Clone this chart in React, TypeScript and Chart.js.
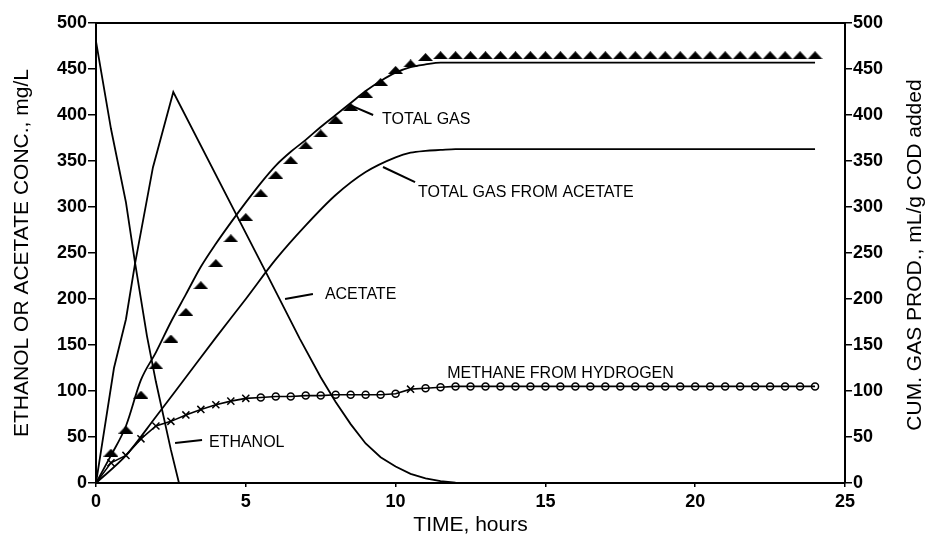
import React, { useEffect, useRef } from 'react';
import { Chart, registerables } from 'chart.js';

Chart.register(...registerables);

// ---- Data (hours, mg/L or mL/g COD) ----
const ethanolTime = [0, 0.5, 1, 1.3, 1.7, 2, 2.5, 2.77];
const ethanolConc = [480, 385, 305, 240, 160, 110, 36, 0];

const acetateTime = [0, 0.6, 1.0, 1.3, 1.9, 2.58, 5.58, 6.8, 7.5, 8, 8.5, 9, 9.5, 10, 10.5, 11, 11.5, 12, 12.5];
const acetateConc = [0, 125, 178, 238, 343, 425, 235, 157, 115, 88, 64, 43, 28, 18, 10, 5, 2, 0.5, 0];

const totalGasTime = [0, 0.5, 1, 1.5, 2, 2.5, 3, 3.5, 4, 4.5, 5, 5.5, 6, 6.5, 7, 7.5, 8, 8.5, 9, 9.5, 10, 10.5, 11, 11.5, 12, 24];
const totalGasModel = [0, 30, 62, 112, 142, 175, 205, 235, 260, 283, 305, 326, 345, 360, 373, 387, 400, 413, 426, 437, 446, 452, 455, 457, 457, 457];

const acetateGasTime = [0, 1, 2, 3, 4, 5, 6, 7, 8, 9, 10, 10.5, 11, 11.5, 12, 24];
const acetateGasModel = [0, 30, 72, 115, 158, 200, 243, 280, 313, 338, 354, 359, 361, 362, 363, 363];

const sampleTime = [
  0, 0.5, 1, 1.5, 2, 2.5, 3, 3.5, 4, 4.5, 5, 5.5, 6, 6.5, 7, 7.5, 8, 8.5, 9, 9.5,
  10, 10.5, 11, 11.5, 12, 12.5, 13, 13.5, 14, 14.5, 15, 15.5, 16, 16.5, 17, 17.5,
  18, 18.5, 19, 19.5, 20, 20.5, 21, 21.5, 22, 22.5, 23, 23.5, 24,
];
const totalGasMeasured = [
  0, 33, 58, 96, 128, 157, 186, 215, 239, 266, 289, 315, 335, 351, 367, 380, 395, 409, 423, 436,
  449, 456, 463, 465, 465, 465, 465, 465, 465, 465, 465, 465, 465, 465, 465, 465,
  465, 465, 465, 465, 465, 465, 465, 465, 465, 465, 465, 465, 465,
];
const methaneFromH2 = [
  0, 22, 30, 48, 62, 67, 74, 80, 85, 89, 92, 93, 94, 94, 95, 95, 96, 96, 96, 96,
  97, 102, 103, 104, 105, 105, 105, 105, 105, 105, 105, 105, 105, 105, 105, 105,
  105, 105, 105, 105, 105, 105, 105, 105, 105, 105, 105, 105, 105,
];

const yTicks = [0, 50, 100, 150, 200, 250, 300, 350, 400, 450, 500];
const xTicks = [0, 5, 10, 15, 20, 25];

const rightTitle = 'CUM. GAS PROD., mL/g COD added';

// annotation labels, anchored in data units (hours, value)
const labelTexts = ['TOTAL GAS', 'TOTAL GAS FROM ACETATE', 'ACETATE', 'METHANE FROM HYDROGEN', 'ETHANOL'];
const labelAnchors = [[9.55, 390], [10.75, 311], [7.64, 200], [11.72, 114], [3.77, 39]];
const leaderLines = [
  [[8.54, 410], [9.25, 400]],
  [[9.58, 343.5], [10.65, 327]],
  [[6.31, 200], [7.24, 205.4]],
  null,
  [[2.64, 43.5], [3.54, 46.7]],
];

const FONT = '"Liberation Sans", Arial, Helvetica, sans-serif';

const pts = (xs: number[], ys: number[]) => xs.map((x, i) => ({ x, y: ys[i] }));

function makeTriangle(): HTMLCanvasElement {
  const c = document.createElement('canvas');
  c.width = 15;
  c.height = 8;
  const g = c.getContext('2d')!;
  g.fillStyle = '#000';
  g.beginPath();
  g.moveTo(7.5, 0);
  g.lineTo(15, 8);
  g.lineTo(0, 8);
  g.closePath();
  g.fill();
  return c;
}

const framePlugin = {
  id: 'frameAndLabels',
  afterDraw(chart: any) {
    const { ctx, chartArea, scales } = chart;
    ctx.save();
    ctx.strokeStyle = '#000';
    ctx.lineWidth = 2;
    ctx.beginPath();
    ctx.moveTo(chartArea.left, chartArea.top);
    ctx.lineTo(chartArea.right, chartArea.top);
    ctx.stroke();

    const xs = scales.x;
    const ys = scales.y;
    ctx.fillStyle = '#000';
    ctx.font = `16px ${FONT}`;
    ctx.textBaseline = 'alphabetic';
    ctx.textAlign = 'left';
    labelTexts.forEach((t, i) => {
      const [ax, ay] = labelAnchors[i];
      ctx.fillText(t, xs.getPixelForValue(ax), ys.getPixelForValue(ay));
      const l = leaderLines[i];
      if (l) {
        ctx.lineWidth = 2;
        ctx.beginPath();
        ctx.moveTo(xs.getPixelForValue(l[0][0]), ys.getPixelForValue(l[0][1]));
        ctx.lineTo(xs.getPixelForValue(l[1][0]), ys.getPixelForValue(l[1][1]));
        ctx.stroke();
      }
    });

    // right axis title, reading bottom-to-top like the left one
    const r = scales.y2;
    ctx.translate(r.right - 12, (chartArea.top + chartArea.bottom) / 2 + 2);
    ctx.rotate(-Math.PI / 2);
    ctx.font = `21px ${FONT}`;
    ctx.textAlign = 'center';
    ctx.textBaseline = 'middle';
    ctx.fillText(rightTitle, 0, 0);
    ctx.restore();
  },
};

export default function App() {
  const ref = useRef<HTMLCanvasElement>(null);

  useEffect(() => {
    if (!ref.current) return;
    Chart.defaults.font.family = FONT;
    Chart.defaults.color = '#000';
    const tri = makeTriangle();

    const tickFont = { size: 18, weight: 'bold' as const, family: FONT };
    const titleFont = { size: 21, family: FONT };

    const chart = new Chart(ref.current, {
      type: 'line',
      data: {
        datasets: [
          {
            label: 'Ethanol',
            data: pts(ethanolTime, ethanolConc),
            borderColor: '#000',
            borderWidth: 1.8,
            pointRadius: 0,
            tension: 0,
          },
          {
            label: 'Acetate',
            data: pts(acetateTime, acetateConc),
            borderColor: '#000',
            borderWidth: 1.8,
            pointRadius: 0,
            tension: 0,
          },
          {
            label: 'Total gas (model)',
            data: pts(totalGasTime, totalGasModel),
            borderColor: '#000',
            borderWidth: 1.8,
            pointRadius: 0,
            cubicInterpolationMode: 'monotone',
          },
          {
            label: 'Total gas from acetate',
            data: pts(acetateGasTime, acetateGasModel),
            borderColor: '#000',
            borderWidth: 1.8,
            pointRadius: 0,
            cubicInterpolationMode: 'monotone',
          },
          {
            label: 'Total gas (measured)',
            data: pts(sampleTime, totalGasMeasured),
            showLine: false,
            pointStyle: tri as any,
            pointRadius: 5,
            borderColor: '#000',
            backgroundColor: '#000',
          },
          {
            label: 'Methane from hydrogen',
            data: pts(sampleTime, methaneFromH2),
            borderColor: '#000',
            borderWidth: 1.6,
            tension: 0,
            pointStyle: (c: any) => (c.dataIndex <= 10 || c.dataIndex === 21 ? 'crossRot' : 'circle'),
            pointRadius: (c: any) => (c.dataIndex <= 10 || c.dataIndex === 21 ? 5 : 3.5),
            pointBorderWidth: 1.5,
            pointBorderColor: '#000',
            pointBackgroundColor: 'rgba(0,0,0,0)',
          },
        ],
      },
      options: {
        animation: false,
        responsive: false,
        events: [],
        layout: { padding: { top: 23, right: 0, left: 0, bottom: 0 } },
        plugins: {
          legend: { display: false },
          tooltip: { enabled: false },
        },
        scales: {
          x: {
            type: 'linear',
            min: 0,
            max: 25,
            afterBuildTicks: (s: any) => {
              s.ticks = xTicks.map((v) => ({ value: v }));
            },
            afterFit: (s: any) => {
              s.height = 55;
            },
            border: { display: true, color: '#000', width: 2 },
            grid: { display: true, drawOnChartArea: false, drawTicks: true, tickLength: 4, color: '#000', lineWidth: 1.5 },
            ticks: { font: tickFont, color: '#000', padding: 4, maxRotation: 0 },
            title: { display: true, text: 'TIME, hours', font: titleFont, color: '#000', padding: { top: 0, bottom: 0 } },
          },
          y: {
            type: 'linear',
            position: 'left',
            min: 0,
            max: 500,
            afterBuildTicks: (s: any) => {
              s.ticks = yTicks.map((v) => ({ value: v }));
            },
            afterFit: (s: any) => {
              s.width = 96;
            },
            border: { display: true, color: '#000', width: 2 },
            grid: { display: true, drawOnChartArea: false, drawTicks: true, tickLength: 8, color: '#000', lineWidth: 1.5 },
            ticks: { font: tickFont, color: '#000', padding: 1 },
            title: {
              display: true,
              text: 'ETHANOL OR ACETATE CONC., mg/L',
              font: titleFont,
              color: '#000',
              padding: { top: 10, bottom: 0 },
            },
          },
          y2: {
            type: 'linear',
            position: 'right',
            min: 0,
            max: 500,
            afterBuildTicks: (s: any) => {
              s.ticks = yTicks.map((v) => ({ value: v }));
            },
            afterFit: (s: any) => {
              s.width = 82;
            },
            border: { display: true, color: '#000', width: 2 },
            grid: { display: true, drawOnChartArea: false, drawTicks: true, tickLength: 7, color: '#000', lineWidth: 1.5 },
            ticks: { font: tickFont, color: '#000', padding: 1 },
            title: { display: false },
          },
        },
      } as any,
      plugins: [framePlugin],
    });
    return () => chart.destroy();
  }, []);

  return (
    <div style={{ position: 'fixed', left: 0, top: 0, width: 927, height: 538, background: '#fff' }}>
      <canvas ref={ref} width={927} height={538} />
    </div>
  );
}
